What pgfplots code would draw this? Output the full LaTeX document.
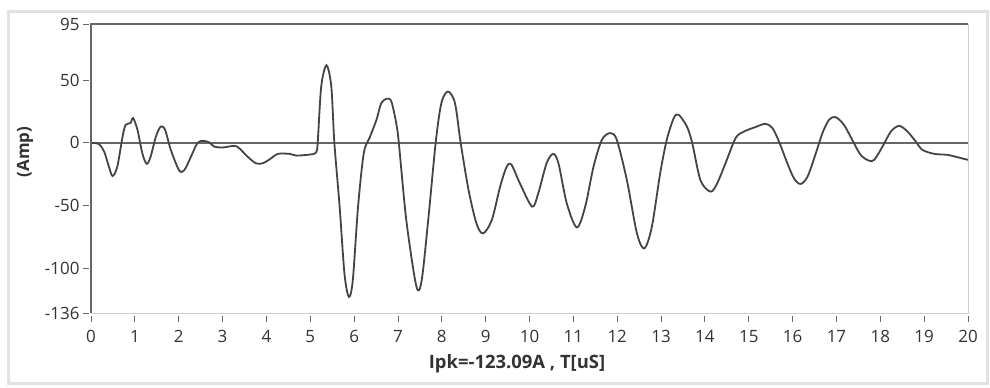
\documentclass[border=0pt]{standalone}
\usepackage{fontspec}
\setmainfont{Open Sans}
\usepackage{pgfplots}
\pgfplotsset{compat=1.18}

\definecolor{trace}{HTML}{444444}
\definecolor{axisdark}{HTML}{666666}
\definecolor{axislight}{HTML}{CCCCCC}
\definecolor{frame}{HTML}{E2E2E2}
\definecolor{ticktext}{HTML}{333333}

\begin{document}
\begin{tikzpicture}[x=1bp,y=1bp]
\useasboundingbox (0,0) rectangle (990,387);
\fill[white] (0,0) rectangle (990,387);
\draw[frame, line width=3bp] (8,4) rectangle (987,375);
\begin{axis}[
  at={(91bp,74bp)}, anchor=south west,
  scale only axis, width=877bp, height=289bp,
  xmin=0, xmax=20, ymin=-136, ymax=95,
  axis line style={draw=none},
  xtick={0,1,...,20},
  ytick={-136,-100,-50,0,50,95},
  xtick pos=bottom, ytick pos=left,
  tick align=outside,
  major tick length=6bp,
  xtick style={draw=axisdark, line width=0.9bp, yshift=-3bp},
  ytick style={draw=axisdark, line width=0.9bp, xshift=-2bp},
  /pgf/number format/assume math mode=true,
  ticklabel style={font=\fontsize{17}{19}\selectfont, text=ticktext},
  xticklabel style={yshift=-8bp},
  yticklabel style={xshift=-2bp},
  clip=false,
]
% zero reference line
\addplot[axisdark, line width=1.8bp] coordinates {(0,0) (20,0)};
% current waveform
\addplot[trace, line width=1.8bp, smooth, tension=0.5] coordinates {
(0,0) (0.18,-1) (0.30,-7) (0.40,-18) (0.49,-26.5) (0.60,-19) (0.72,5)
(0.79,14.4) (0.90,15.8) (0.96,19.8) (1.06,10.4) (1.17,-8.3) (1.27,-16.8)
(1.36,-11) (1.48,5) (1.59,13) (1.69,10.4) (1.82,-5.6) (2.01,-22)
(2.13,-21.7) (2.28,-11) (2.43,0) (2.56,1.6) (2.70,0.3) (2.81,-3)
(3.00,-3.7) (3.27,-2.4) (3.38,-4.3) (3.57,-11) (3.76,-16.3) (3.92,-16.3)
(4.11,-12.3) (4.26,-8.8) (4.53,-8.8) (4.68,-10.2) (5.06,-9) (5.14,-7)
(5.17,0) (5.25,45) (5.37,62) (5.48,45) (5.55,0) (5.67,-51) (5.78,-104.5)
(5.88,-123.09) (5.97,-110) (6.09,-51) (6.22,-8.3) (6.35,3.8) (6.51,18.4)
(6.62,31.8) (6.75,35.3) (6.85,33) (6.96,15.8) (7.02,0) (7.19,-61.7)
(7.42,-114.7) (7.54,-110) (7.69,-61.7) (7.86,0) (7.99,31.8) (8.14,41)
(8.30,31.8) (8.43,0) (8.61,-37.7) (8.79,-64.4) (8.94,-72.4) (9.14,-61.7)
(9.33,-35) (9.48,-19) (9.59,-17.6) (9.78,-32.3) (10.06,-51) (10.20,-40.3)
(10.39,-16.3) (10.54,-8.8) (10.66,-16.3) (10.85,-48.4) (11.08,-67.6)
(11.27,-51) (11.46,-19) (11.65,2.4) (11.84,7.8) (11.99,2.4) (12.22,-29.7)
(12.45,-72.4) (12.62,-84.4) (12.79,-67.1) (12.98,-24.3) (13.13,2.4)
(13.29,19.8) (13.40,22.5) (13.59,13) (13.71,0) (13.90,-30) (14.13,-39)
(14.28,-32.3) (14.47,-16.3) (14.70,3.8) (14.89,9) (15.15,12.6) (15.38,15.2)
(15.54,11.8) (15.69,1) (15.88,-16.3) (16.03,-28.3) (16.18,-32.9) (16.34,-27)
(16.53,-8.3) (16.68,7.8) (16.83,18.4) (16.98,20.6) (17.17,14.4) (17.36,2.4)
(17.55,-9.6) (17.74,-14.2) (17.86,-13.6) (18.05,-3) (18.24,9) (18.43,13.6)
(18.62,9) (18.81,1) (18.96,-5.6) (19.23,-8.8) (19.53,-9.6) (19.76,-11.5)
(20,-13.6)
};
% plot frame: dark on the left and top, light on the right and bottom
\draw[axislight, line width=1bp] (rel axis cs:1,1) -- (rel axis cs:1,0) -- (rel axis cs:0,0);
\draw[axisdark, line width=1.4bp] (rel axis cs:0,0) -- (rel axis cs:0,1) -- (rel axis cs:1,1);
\end{axis}
\node[rotate=90, font=\bfseries\fontsize{17}{19}\selectfont, text=ticktext] at (25,235) {(Amp)};
\node[font=\bfseries\fontsize{18.5}{20}\selectfont, text=ticktext] at (517,23) {Ipk=-123.09A , T[uS]};
\end{tikzpicture}
\end{document}
